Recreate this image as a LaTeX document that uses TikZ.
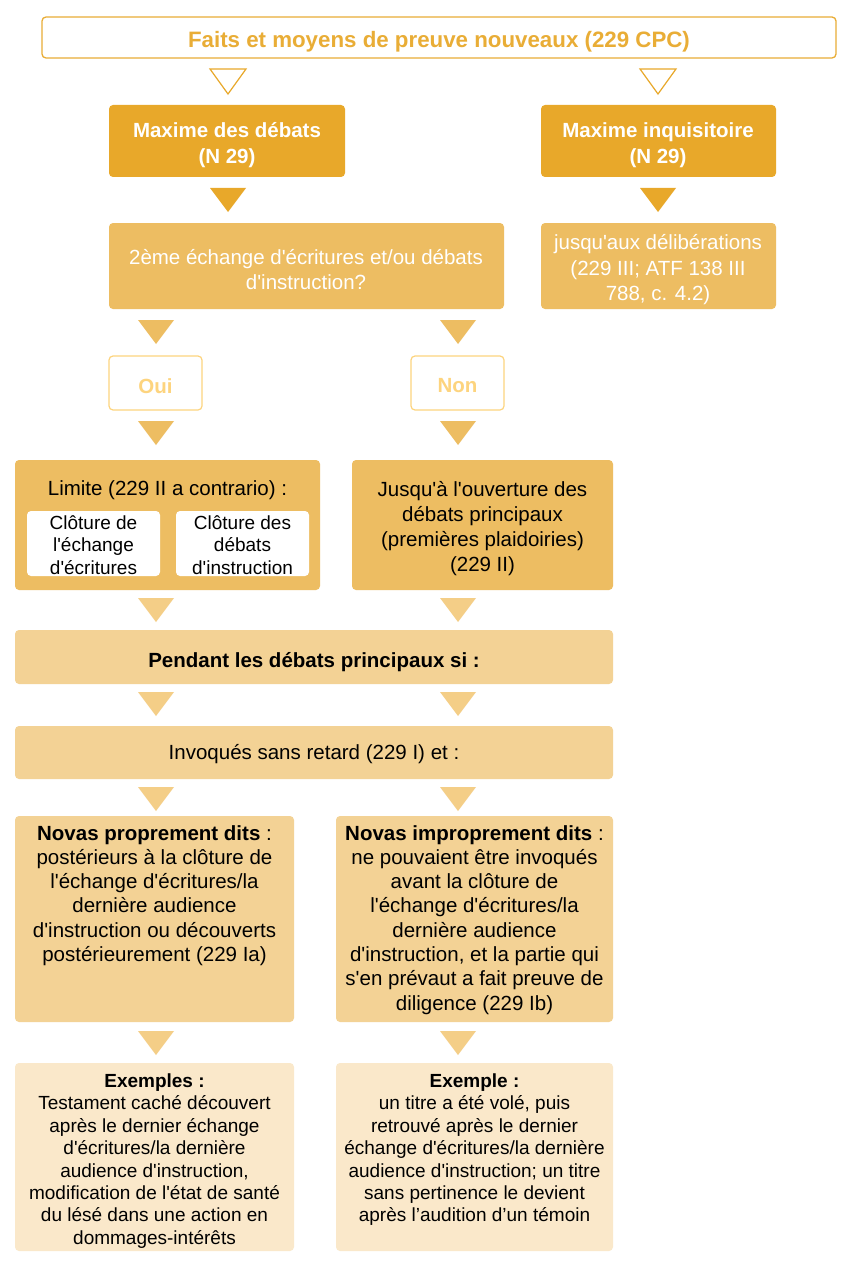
\documentclass[tikz,border=0pt]{standalone}
\usepackage{fontspec}
\setmainfont{Liberation Sans}[Ligatures=TeXOff]
\definecolor{cA}{HTML}{E8A82A}
\definecolor{cB}{HTML}{EDBD62}
\definecolor{cC}{HTML}{F3D295}
\definecolor{cD}{HTML}{FAE8CA}
\definecolor{cTri}{HTML}{F4CE87}
\definecolor{cOui}{HTML}{FDD47E}
\definecolor{cTitle}{HTML}{E9AD36}
\begin{document}
\begin{tikzpicture}[x=1pt,y=-1pt,
  box/.style={rounded corners=4pt},
  txt/.style={font=\fontsize{20.5}{25}\selectfont, align=center, inner sep=0pt},
  smalltxt/.style={font=\fontsize{19}{22.4}\selectfont, align=center, inner sep=0pt},
]
\useasboundingbox (0,0) rectangle (854,1268);
\fill[white] (0,0) rectangle (854,1268);
% Title
\draw[box, draw=cTitle, line width=1.3pt, fill=white] (42,17) rectangle (836,58);
\node[txt, text=cTitle, font=\fontsize{22.3}{25}\selectfont\bfseries] (title) at (439,41.5) {Faits et moyens de preuve nouveaux (229 CPC)};
% hollow triangles
\draw[cA, line width=1.2pt, line join=miter] (210,69) -- (246,69) -- (228,94) -- cycle;
\draw[cA, line width=1.2pt, line join=miter] (640,69) -- (676,69) -- (658,94) -- cycle;
% Maxime boxes
\fill[box, cA] (109,105) rectangle (345,177);
\node[txt, text=white, font=\fontsize{20.5}{26}\selectfont\bfseries] (maxd) at (227,145) {Maxime des débats\\(N 29)};
\fill[box, cA] (541,105) rectangle (776,177);
\node[txt, text=white, font=\fontsize{20.5}{26}\selectfont\bfseries] (maxi) at (658,145) {Maxime inquisitoire\\(N 29)};
% triangles
\fill[cA] (210,188) -- (246,188) -- (228,212) -- cycle;
\fill[cA] (640,188) -- (676,188) -- (658,212) -- cycle;
% second row
\fill[box, cB] (109,223) rectangle (504,309);
\node[txt, text=white] (q) at (306,270) {2ème échange d'écritures et/ou débats\\d'instruction?};
\fill[box, cB] (541,223) rectangle (776,309);
\node[txt, text=white, font=\fontsize{20.5}{25.5}\selectfont] (delib) at (658,270) {jusqu'aux délibérations\\(229 III; ATF 138 III\\788, c. 4.2)};
% triangles
\fill[cB] (138,320) -- (174,320) -- (156,344) -- cycle;
\fill[cB] (440,320) -- (476,320) -- (458,344) -- cycle;
% Oui / Non
\draw[box, draw=cOui, line width=1.2pt, fill=white] (109,356) rectangle (202,410);
\node[txt, text=cOui, font=\fontsize{20.5}{25}\selectfont\bfseries] (oui) at (155.5,386) {Oui};
\draw[box, draw=cOui, line width=1.2pt, fill=white] (411,356) rectangle (504,410);
\node[txt, text=cOui, font=\fontsize{20.5}{25}\selectfont\bfseries] (non) at (457.5,386) {Non};
\fill[cB] (138,421) -- (174,421) -- (156,445) -- cycle;
\fill[cB] (440,421) -- (476,421) -- (458,445) -- cycle;
% Limite / Jusqu'a
\fill[box, cB] (15,460) rectangle (320,590);
\node[txt] (lim) at (167.5,490) {Limite (229 II a contrario) :};
\fill[box, white] (27,511) rectangle (160,576);
\node[smalltxt, font=\fontsize{19}{22.5}\selectfont] (clo1) at (93.5,545) {Clôture de\\l'échange\\d'écritures};
\fill[box, white] (176,511) rectangle (309,576);
\node[smalltxt, font=\fontsize{19}{22.5}\selectfont] (clo2) at (242.5,545) {Clôture des\\débats\\d'instruction};
\fill[box, cB] (352,460) rectangle (613,590);
\node[txt] (jus) at (482.5,529) {Jusqu'à l'ouverture des\\débats principaux\\(premières plaidoiries)\\(229 II)};
\fill[cTri] (138,598) -- (174,598) -- (156,622) -- cycle;
\fill[cTri] (440,598) -- (476,598) -- (458,622) -- cycle;
% Pendant
\fill[box, cC] (15,630) rectangle (613,684);
\node[txt, font=\fontsize{20.5}{25}\selectfont\bfseries] (pend) at (314,662) {Pendant les débats principaux si :};
\fill[cTri] (138,692) -- (174,692) -- (156,716) -- cycle;
\fill[cTri] (440,692) -- (476,692) -- (458,716) -- cycle;
% Invoques
\fill[box, cC] (15,726) rectangle (613,779);
\node[txt] (inv) at (314,754) {Invoqués sans retard (229 I) et :};
\fill[cTri] (138,787) -- (174,787) -- (156,811) -- cycle;
\fill[cTri] (440,787) -- (476,787) -- (458,811) -- cycle;
% Novas
\fill[box, cC] (15,816) rectangle (294,1022);
\node[txt, font=\fontsize{20.5}{24.3}\selectfont, anchor=north] (np) at (154.5,825) {\textbf{Novas proprement dits} :\\postérieurs à la clôture de\\l'échange d'écritures/la\\dernière audience\\d'instruction ou découverts\\postérieurement (229 Ia)};
\fill[box, cC] (336,816) rectangle (613,1022);
\node[txt, font=\fontsize{20.5}{24.3}\selectfont, anchor=north] (ni) at (474.5,825) {\textbf{Novas improprement dits} :\\ne pouvaient être invoqués\\avant la clôture de\\l'échange d'écritures/la\\dernière audience\\d'instruction, et la partie qui\\s'en prévaut a fait preuve de\\diligence (229 Ib)};
\fill[cTri] (138,1031) -- (174,1031) -- (156,1055) -- cycle;
\fill[cTri] (440,1031) -- (476,1031) -- (458,1055) -- cycle;
% Exemples
\fill[box, cD] (15,1063) rectangle (294,1251);
\node[smalltxt, anchor=north] (ex1) at (154.5,1073.5) {\textbf{Exemples :}\\Testament caché découvert\\après le dernier échange\\d'écritures/la dernière\\audience d'instruction,\\modification de l'état de santé\\du lésé dans une action en\\dommages-intérêts};
\fill[box, cD] (336,1063) rectangle (613,1251);
\node[smalltxt, anchor=north] (ex2) at (474.5,1073.5) {\textbf{Exemple :}\\un titre a été volé, puis\\retrouvé après le dernier\\échange d'écritures/la dernière\\audience d'instruction; un titre\\sans pertinence le devient\\après l’audition d’un témoin};
\end{tikzpicture}
\end{document}
